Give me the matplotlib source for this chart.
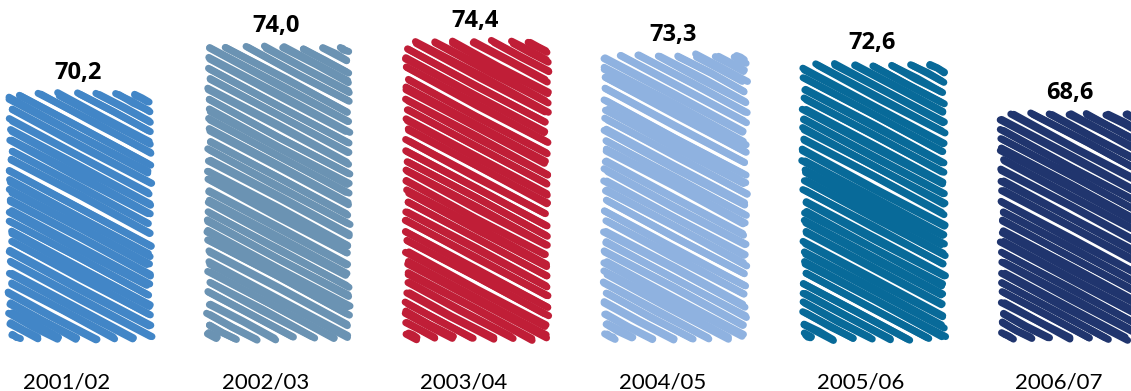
import numpy as np
import matplotlib
matplotlib.use("Agg")
import matplotlib.pyplot as plt

# School years and the share values shown above each bar
seasons = ["2001/02", "2002/03", "2003/04", "2004/05", "2005/06", "2006/07"]
values = [70.2, 74.0, 74.4, 73.3, 72.6, 68.6]
value_labels = ["70,2", "74,0", "74,4", "73,3", "72,6", "68,6"]
colors = ["#4286c7", "#6b93b3", "#c01e37", "#8fb2e0", "#086a99", "#20356e"]

Y_FLOOR = 50.6
W_PX, H_PX, DPI = 1131, 391, 100

fig = plt.figure(figsize=(W_PX / DPI, H_PX / DPI), dpi=DPI)
ax = fig.add_axes([0, 0, 1, 1])
ax.set_xlim(-0.403, 5.297)
ax.set_ylim(46.33, 77.84)
ax.axis("off")

x = np.arange(len(seasons))
BAR_W = 0.696
bars = ax.bar(x, [v - Y_FLOOR for v in values], bottom=Y_FLOOR, width=BAR_W,
              color="none", edgecolor="none")

fig.canvas.draw()
to_px = ax.transData
to_data = ax.transData.inverted()

rng = np.random.default_rng(7)
theta = np.deg2rad(28)
d = np.array([np.cos(theta), -np.sin(theta)])   # stroke direction (down-right)
n = np.array([np.sin(theta), np.cos(theta)])    # normal to strokes
GAP = 9.0      # px between hachure strokes
LW_PX = 7.0    # px stroke width


def clip_line(c, x0, x1, y0, y1):
    """Segment of line n.p = c inside the rectangle."""
    pts = []
    for xe in (x0, x1):
        y = (c - n[0] * xe) / n[1]
        if y0 - 1e-9 <= y <= y1 + 1e-9:
            pts.append((xe, y))
    for ye in (y0, y1):
        xx = (c - n[1] * ye) / n[0]
        if x0 - 1e-9 <= xx <= x1 + 1e-9:
            pts.append((xx, ye))
    if len(pts) < 2:
        return None
    pts = np.array(pts)
    t = pts @ d
    return pts[np.argmin(t)], pts[np.argmax(t)]


for bar, col in zip(bars, colors):
    bx, by = bar.get_x(), bar.get_y()
    (x0, y0), (x1, y1) = to_px.transform([(bx, by), (bx + bar.get_width(), by + bar.get_height())])
    corners = np.array([(x0, y0), (x0, y1), (x1, y0), (x1, y1)])
    cs = corners @ n
    for c in np.arange(cs.min() + GAP * 0.4, cs.max(), GAP):
        seg = clip_line(c, x0, x1, y0, y1)
        if seg is None:
            continue
        a, b = seg
        for k in range(2):
            off = n * rng.uniform(-1.4, 1.4)
            a2 = a + off + d * rng.uniform(-3, 2)
            b2 = b + off + d * rng.uniform(-2, 3)
            mid = (a2 + b2) / 2 + n * rng.uniform(-1.0, 1.0)
            pts = to_data.transform([a2, mid, b2])
            ax.plot(pts[:, 0], pts[:, 1], color=col, lw=LW_PX * 72 / DPI,
                    solid_capstyle="round", solid_joinstyle="round")

for xi, v, lab in zip(x, values, value_labels):
    ax.annotate(lab, (xi - 0.01, v), xytext=(0, 7), textcoords="offset points",
                ha="center", va="bottom", fontsize=17, fontweight="bold",
                family="Open Sans", color="#000000")

for xi, s in zip(x, seasons):
    ax.text(xi - 0.066, 2.5 / H_PX, s, transform=ax.get_xaxis_transform(),
            ha="center", va="baseline", fontsize=16, family="Lato", color="#000000")

fig.savefig("out.png", dpi=DPI)
